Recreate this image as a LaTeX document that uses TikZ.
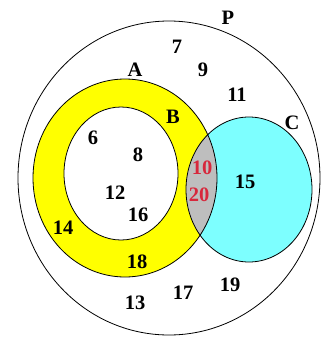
\documentclass[tikz,border=0pt]{standalone}
\usepackage{fontspec}
\setmainfont{Liberation Serif}
\begin{document}
\begin{tikzpicture}[x=1pt,y=-1pt,
  lbl/.style={font=\fontsize{20.5}{20.5}\selectfont\bfseries, inner sep=0pt, text=black},
  redlbl/.style={lbl, text=redtxt},
  outline/.style={draw=black, line width=0.8pt}]
\definecolor{yel}{RGB}{255,255,0}
\definecolor{cya}{RGB}{125,255,255}
\definecolor{lens}{RGB}{190,190,190}
\definecolor{redtxt}{RGB}{215,40,60}
\useasboundingbox (0,0) rectangle (321,338);
% fills
\fill[yel] (125,178) ellipse [x radius=92, y radius=99];
\fill[white] (121,173.5) ellipse [x radius=57, y radius=66.5];
\fill[cya] (249,189.5) ellipse [x radius=63, y radius=72.5];
\begin{scope}
  \clip (249,189.5) ellipse [x radius=63, y radius=72.5];
  \fill[lens] (125,178) ellipse [x radius=92, y radius=99];
\end{scope}
% outlines
\draw[outline] (169,178) ellipse [x radius=151, y radius=157];
\draw[outline] (125,178) ellipse [x radius=92, y radius=99];
\draw[outline] (121,173.5) ellipse [x radius=57, y radius=66.5];
\draw[outline] (249,189.5) ellipse [x radius=63, y radius=72.5];
% labels
\node[lbl] (P) at (228,18) {P};
\node[lbl] (A) at (135,70) {A};
\node[lbl] (B) at (173,117) {B};
\node[lbl] (C) at (292,123) {C};
\node[lbl] (n7) at (177,47) {7};
\node[lbl] (n9) at (203,70) {9};
\node[lbl] (n11) at (237,95) {11};
\node[lbl] (n6) at (93,138) {6};
\node[lbl] (n8) at (138,155) {8};
\node[redlbl] (n10) at (202,168) {10};
\node[redlbl] (n20) at (199,195) {20};
\node[lbl] (n15) at (245,182) {15};
\node[lbl] (n12) at (115,193) {12};
\node[lbl] (n16) at (138,215) {16};
\node[lbl] (n14) at (63,228) {14};
\node[lbl] (n18) at (137,262) {18};
\node[lbl] (n13) at (135,303) {13};
\node[lbl] (n17) at (183,293) {17};
\node[lbl] (n19) at (230,285) {19};
\end{tikzpicture}
\end{document}
